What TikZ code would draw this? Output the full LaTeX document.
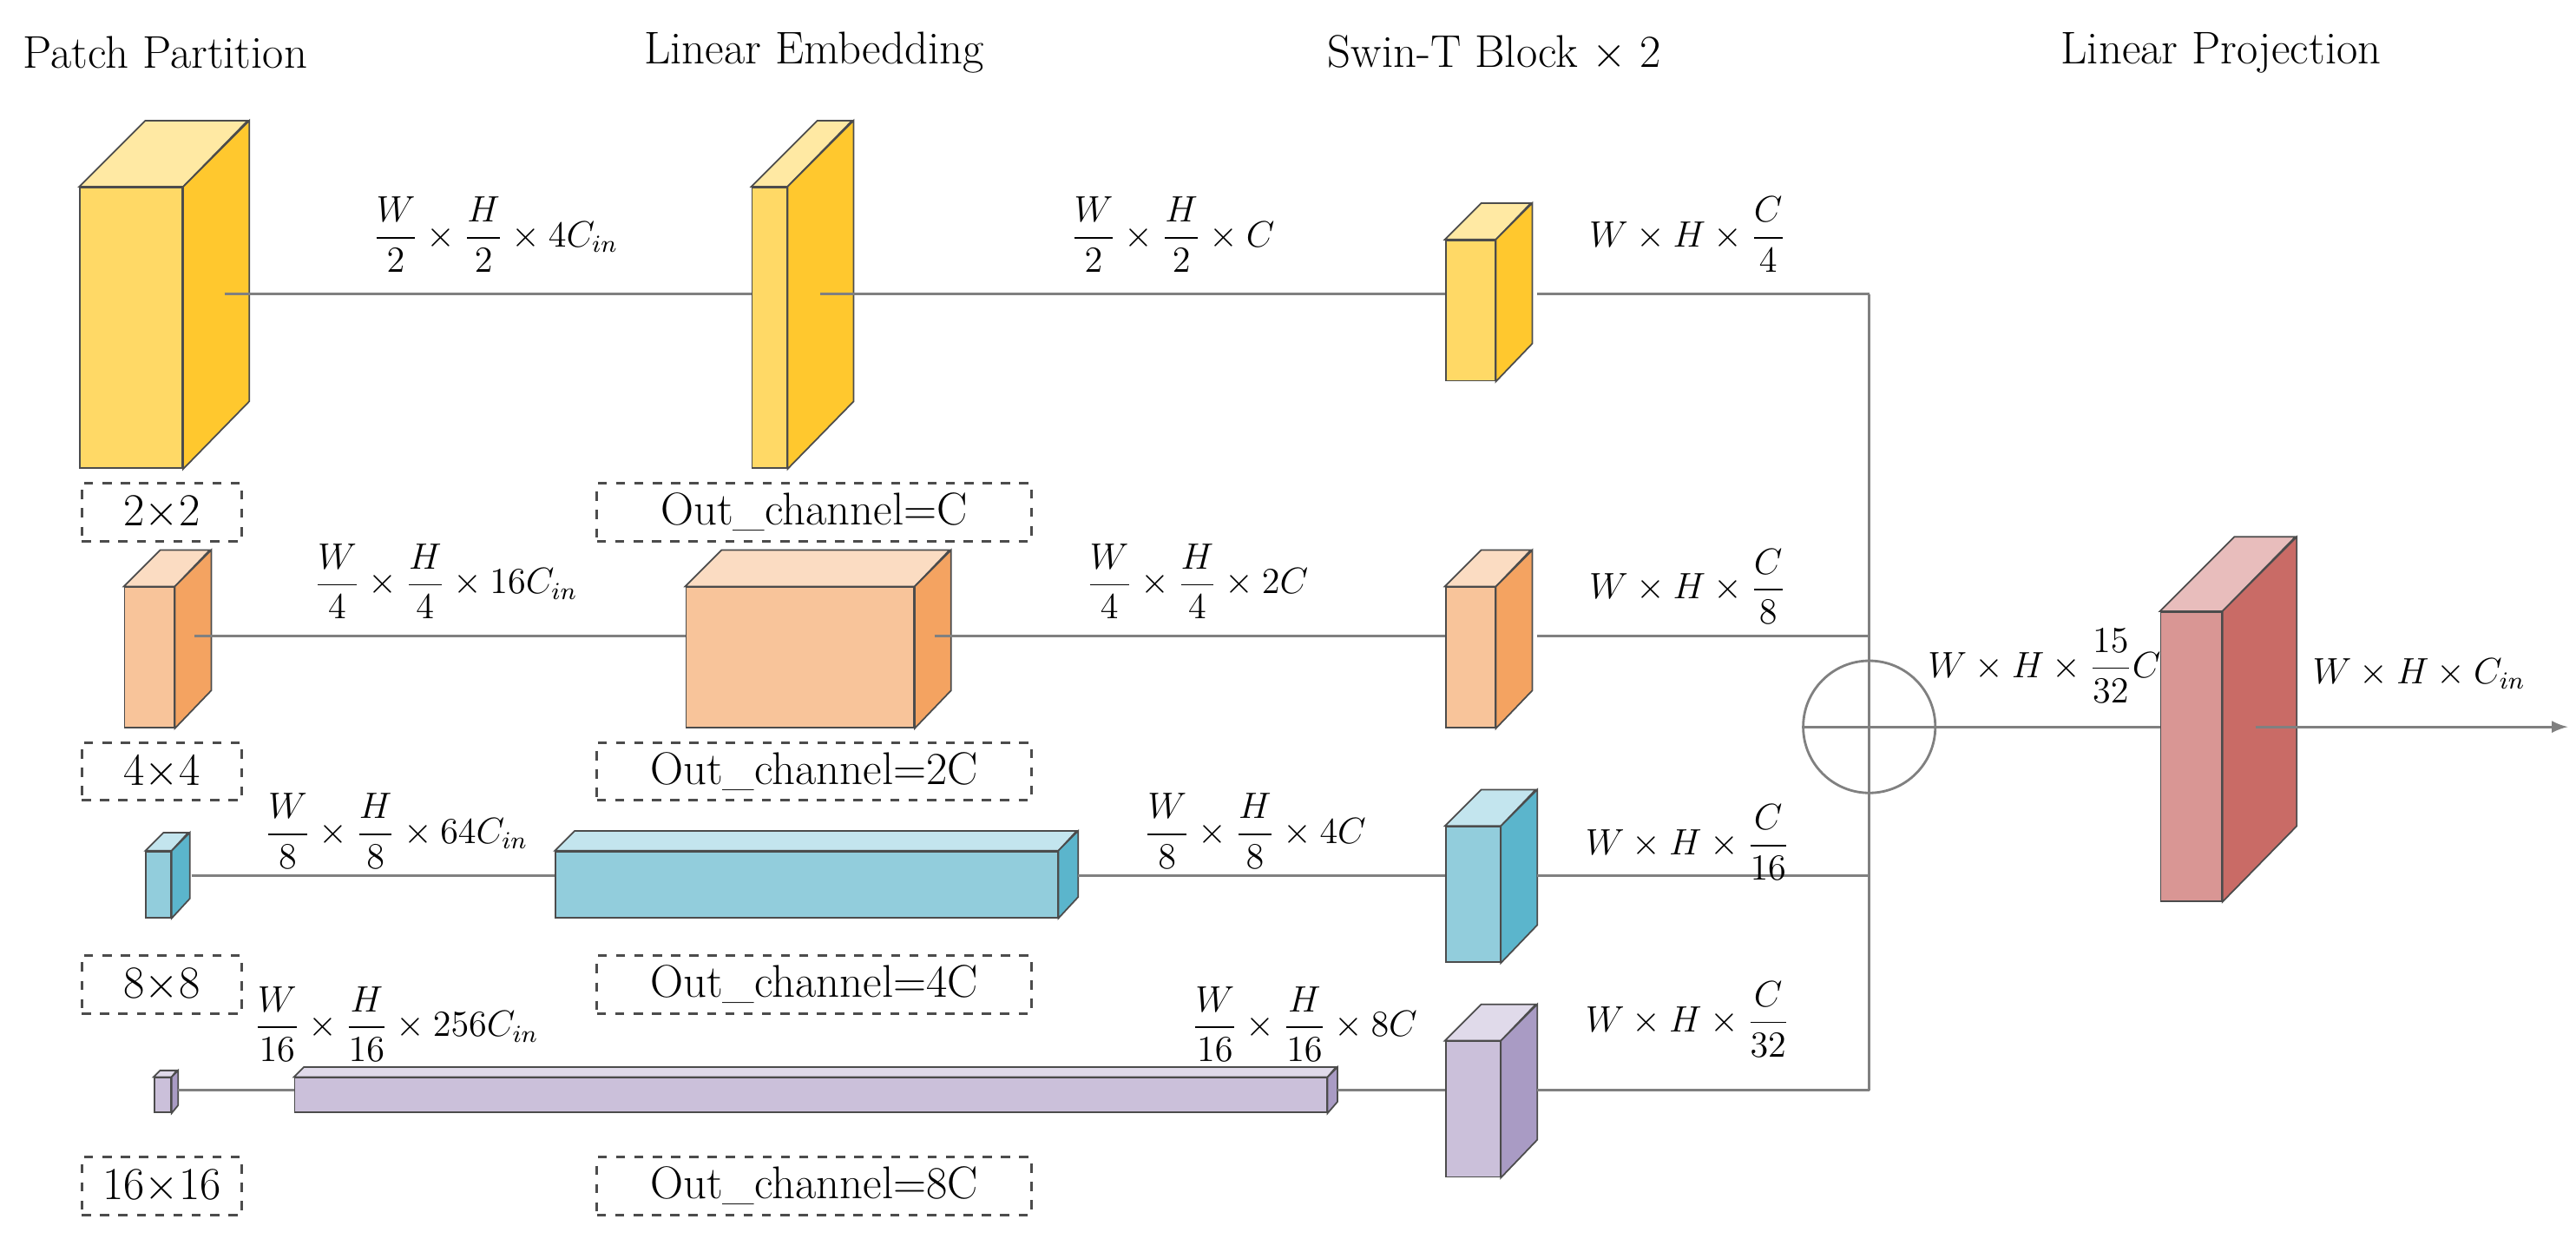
\documentclass[tikz,border=0pt]{standalone}
\usepackage{tikz}
\usepackage{amsmath}
\usetikzlibrary{calc}
\definecolor{yelF}{HTML}{FFD966}\definecolor{yelS}{HTML}{FFC82E}\definecolor{yelT}{HTML}{FFE9A3}
\definecolor{oraF}{HTML}{F8C49A}\definecolor{oraS}{HTML}{F4A361}\definecolor{oraT}{HTML}{FBDCC2}
\definecolor{bluF}{HTML}{92CDDC}\definecolor{bluS}{HTML}{5BB5CC}\definecolor{bluT}{HTML}{C3E5EE}
\definecolor{purF}{HTML}{CBC0DA}\definecolor{purS}{HTML}{A99BC4}\definecolor{purT}{HTML}{E0DAEA}
\definecolor{redF}{HTML}{D99694}\definecolor{redS}{HTML}{C96B66}\definecolor{redT}{HTML}{E8BDBC}
% cuboid: name, x, y, width, height, depth, colour prefix
\newcommand{\cuboid}[7]{%
  \node [face, fill=#7F, minimum width={#4*0.019cm}, minimum height={#5*0.019cm}, anchor=north west] (#1) at (#2,#3) {};
  \draw [face, fill=#7T] (#1.north west) -- ++(#6,-#6) -- ++(#4,0) -- (#1.north east) -- cycle;
  \draw [face, fill=#7S] (#1.north east) -- ++(#6,-#6) -- ++(0,#5) -- (#1.south east) -- cycle;}
\tikzset{
  face/.style={draw=black!70, line width=0.5pt, inner sep=0pt},
  link/.style={draw=gray, line width=0.8pt},
  size/.style={draw=black!70, dashed, line width=0.8pt, inner sep=0pt, font=\fontsize{15}{18}\selectfont},
  title/.style={font=\fontsize{15}{18}\selectfont},
  dim/.style={font=\fontsize{12}{14}\selectfont, inner sep=1pt}
}
\begin{document}
\begin{tikzpicture}[x=0.019cm, y=-0.019cm]
  \useasboundingbox (0,0) rectangle (1560,750);
  % titles
  \node [title] (tPP) at (100,32) {Patch Partition};
  \node [title] (tLE) at (493,32) {Linear Embedding};
  \node [title] (tSW) at (905,32) {Swin-T Block $\times$ 2};
  \node [title] (tLP) at (1345,32) {Linear Projection};

  \coordinate (r1) at (0,178);
  \coordinate (r2) at (0,385);
  \coordinate (r3) at (0,530);
  \coordinate (r4) at (0,660);
  \coordinate (mid) at (1132,440);

  % row 1
  \cuboid{pp1}{48}{113}{62}{170}{40}{yel}
  \cuboid{le1}{455}{113}{21}{170}{40}{yel}
  \cuboid{sw1}{875}{145}{30}{85}{22}{yel}
  \node [size, minimum width=97*0.019cm, minimum height=35*0.019cm] (k1) at (98,310) {2$\times$2};
  \node [size, minimum width=263*0.019cm, minimum height=35*0.019cm] (c1) at (493,310) {Out\_channel=C};
  \draw [link] ($(pp1.east|-r1)+(25,0)$) -- (le1.west|-r1);
  \draw [link] ($(le1.east|-r1)+(20,0)$) -- (sw1.west|-r1);
  \draw [link] ($(sw1.east|-r1)+(25,0)$) -- (mid|-r1);
  \node [dim] (d11) at (300,142) {$\dfrac{W}{2}\times\dfrac{H}{2}\times 4C_{in}$};
  \node [dim] (d12) at (710,142) {$\dfrac{W}{2}\times\dfrac{H}{2}\times C$};
  \node [dim] (d13) at (1022,142) {$W\times H\times\dfrac{C}{4}$};

  % row 2
  \cuboid{pp2}{75}{355}{30}{85}{22}{ora}
  \cuboid{le2}{415}{355}{138}{85}{22}{ora}
  \cuboid{sw2}{875}{355}{30}{85}{22}{ora}
  \node [size, minimum width=97*0.019cm, minimum height=35*0.019cm] (k2) at (98,467) {4$\times$4};
  \node [size, minimum width=263*0.019cm, minimum height=35*0.019cm] (c2) at (493,467) {Out\_channel=2C};
  \draw [link] ($(pp2.east|-r2)+(12,0)$) -- (le2.west|-r2);
  \draw [link] ($(le2.east|-r2)+(12,0)$) -- (sw2.west|-r2);
  \draw [link] ($(sw2.east|-r2)+(25,0)$) -- (mid|-r2);
  \node [dim] (d21) at (270,352) {$\dfrac{W}{4}\times\dfrac{H}{4}\times 16C_{in}$};
  \node [dim] (d22) at (725,352) {$\dfrac{W}{4}\times\dfrac{H}{4}\times 2C$};
  \node [dim] (d23) at (1022,355) {$W\times H\times\dfrac{C}{8}$};

  % row 3
  \cuboid{pp3}{88}{515}{15}{40}{11}{blu}
  \cuboid{le3}{336}{515}{304}{40}{12}{blu}
  \cuboid{sw3}{875}{500}{33}{82}{22}{blu}
  \node [size, minimum width=97*0.019cm, minimum height=35*0.019cm] (k3) at (98,596) {8$\times$8};
  \node [size, minimum width=263*0.019cm, minimum height=35*0.019cm] (c3) at (493,596) {Out\_channel=4C};
  \draw [link] ($(pp3.east|-r3)+(12,0)$) -- (le3.west|-r3);
  \draw [link] ($(le3.east|-r3)+(12,0)$) -- (sw3.west|-r3);
  \draw [link] ($(sw3.east|-r3)+(22,0)$) -- (mid|-r3);
  \node [dim] (d31) at (240,503) {$\dfrac{W}{8}\times\dfrac{H}{8}\times 64C_{in}$};
  \node [dim] (d32) at (760,503) {$\dfrac{W}{8}\times\dfrac{H}{8}\times 4C$};
  \node [dim] (d33) at (1022,510) {$W\times H\times\dfrac{C}{16}$};

  % row 4
  \cuboid{pp4}{93}{652}{10}{21}{4}{pur}
  \cuboid{le4}{178}{652}{625}{21}{6}{pur}
  \cuboid{sw4}{875}{630}{33}{82}{22}{pur}
  \node [size, minimum width=97*0.019cm, minimum height=35*0.019cm] (k4) at (98,718) {16$\times$16};
  \node [size, minimum width=263*0.019cm, minimum height=35*0.019cm] (c4) at (493,718) {Out\_channel=8C};
  \draw [link] ($(pp4.east|-r4)+(4,0)$) -- (le4.west|-r4);
  \draw [link] ($(le4.east|-r4)+(6,0)$) -- (sw4.west|-r4);
  \draw [link] ($(sw4.east|-r4)+(22,0)$) -- (mid|-r4);
  \node [dim] (d41) at (240,620) {$\dfrac{W}{16}\times\dfrac{H}{16}\times 256C_{in}$};
  \node [dim] (d42) at (790,620) {$\dfrac{W}{16}\times\dfrac{H}{16}\times 8C$};
  \node [dim] (d43) at (1022,617) {$W\times H\times\dfrac{C}{32}$};

  % sum and projection
  \draw [link] (mid|-r1) -- (mid|-r4);
  \node [link, circle, minimum size=80*0.019cm, inner sep=0pt] (sum) at (mid) {};
  \draw [link] (sum.west) -- (sum.east);
  \cuboid{lp}{1308}{370}{37}{175}{45}{red}
  \draw [link] (sum.east) -- (lp.west|-mid);
  \coordinate (out) at (1555,440);
  \draw [link, -latex] ($(lp.east|-mid)+(20,0)$) -- (out);
  \node [dim] (d5) at (1238,403) {$W\times H\times\dfrac{15}{32}C$};
  \node [dim] (d6) at (1465,408) {$W\times H\times C_{in}$};
\end{tikzpicture}
\end{document}
